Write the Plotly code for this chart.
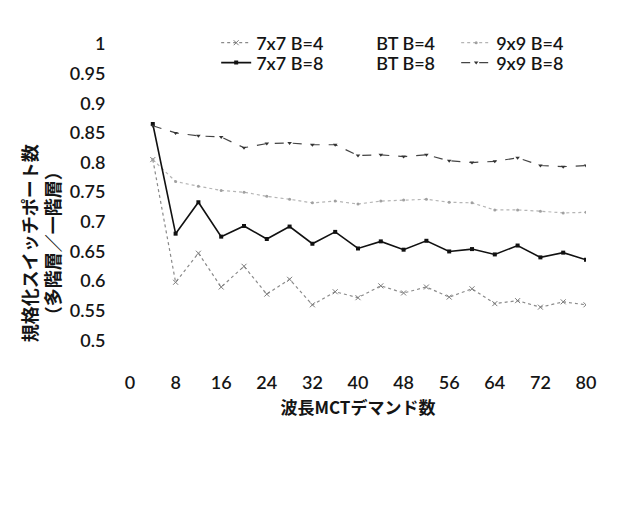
import plotly.graph_objects as go

demand = [4, 8, 12, 16, 20, 24, 28, 32, 36, 40, 44, 48, 52, 56, 60, 64, 68, 72, 76, 80]

s7x7_b4 = [0.805, 0.598, 0.647, 0.590, 0.625, 0.578, 0.603, 0.560, 0.582, 0.572,
           0.592, 0.580, 0.590, 0.573, 0.587, 0.562, 0.567, 0.556, 0.565, 0.560]
s9x9_b4 = [0.805, 0.768, 0.760, 0.753, 0.750, 0.743, 0.738, 0.732, 0.735, 0.730,
           0.735, 0.737, 0.738, 0.733, 0.732, 0.720, 0.720, 0.718, 0.715, 0.716]
s7x7_b8 = [0.865, 0.680, 0.733, 0.675, 0.693, 0.671, 0.692, 0.663, 0.683, 0.655,
           0.667, 0.653, 0.668, 0.650, 0.654, 0.645, 0.660, 0.640, 0.648, 0.636]
s9x9_b8 = [0.862, 0.850, 0.845, 0.843, 0.825, 0.832, 0.833, 0.830, 0.830, 0.812,
           0.813, 0.810, 0.813, 0.803, 0.800, 0.802, 0.808, 0.795, 0.793, 0.795]
bt_b4 = [None]
bt_b8 = [None]

x_ticks = [0, 8, 16, 24, 32, 40, 48, 56, 64, 72, 80]
y_ticks = [0.5, 0.55, 0.6, 0.65, 0.7, 0.75, 0.8, 0.85, 0.9, 0.95, 1]
y_tick_text = ["0.5", "0.55", "0.6", "0.65", "0.7", "0.75", "0.8", "0.85", "0.9", "0.95", "1"]

x_title = "波長MCTデマンド数"
y_title = "規格化スイッチポート数<br>（多階層／一階層）"

FONT = "Lato, 'Noto Sans CJK JP', sans-serif"
JP = "'Noto Sans CJK JP', sans-serif"
TXT = "#151515"

fig = go.Figure()

fig.add_trace(go.Scatter(x=demand, y=s7x7_b4, name="7x7 B=4", mode="lines+markers",
                         line=dict(color="#8a8a8a", width=1.2, dash="dot"),
                         marker=dict(symbol="x-thin", size=5, color="#7a7a7a", line=dict(width=1, color="#7a7a7a")),
                         legend="legend"))
fig.add_trace(go.Scatter(x=bt_b4, y=bt_b4, name="BT B=4", mode="lines",
                         line=dict(color="rgba(255,255,255,0)", width=1),
                         legend="legend", showlegend=True))
fig.add_trace(go.Scatter(x=demand, y=s9x9_b4, name="9x9 B=4", mode="lines+markers",
                         line=dict(color="#b5b5b5", width=1.2, dash="dot"),
                         marker=dict(symbol="circle", size=3, color="#a0a0a0"),
                         legend="legend"))
fig.add_trace(go.Scatter(x=demand, y=s7x7_b8, name="7x7 B=8", mode="lines+markers",
                         line=dict(color="#111111", width=1.6),
                         marker=dict(symbol="square", size=4, color="#111111"),
                         legend="legend2"))
fig.add_trace(go.Scatter(x=bt_b8, y=bt_b8, name="BT B=8", mode="lines",
                         line=dict(color="rgba(255,255,255,0)", width=1),
                         legend="legend2", showlegend=True))
fig.add_trace(go.Scatter(x=demand, y=s9x9_b8, name="9x9 B=8", mode="lines+markers",
                         line=dict(color="#444444", width=1.2, dash="dash"),
                         marker=dict(symbol="triangle-down", size=4, color="#333333"),
                         legend="legend2"))

leg_common = dict(orientation="h", xanchor="left", yanchor="middle", xref="paper", yref="paper",
                  entrywidth=75, entrywidthmode="pixels", itemwidth=30,
                  font=dict(family=FONT, size=18, color=TXT, weight=600),
                  bgcolor="rgba(0,0,0,0)", tracegroupgap=0)

fig.update_layout(
    width=644, height=524,
    margin=dict(l=122, r=66, t=36, b=162),
    paper_bgcolor="white", plot_bgcolor="white",
    font=dict(family=FONT, size=16, color=TXT),
    legend=dict(**leg_common, x=0.189, y=1.003),
    legend2=dict(**leg_common, x=0.189, y=0.942),
    xaxis=dict(range=[0, 80], tickmode="array", tickvals=x_ticks,
               showgrid=False, zeroline=False, showline=False,
               ticks="",
               tickfont=dict(family=FONT, size=18, color=TXT, weight=600),
               title=dict(text="<b>" + x_title + "</b>", font=dict(family=JP, size=17, color=TXT), standoff=10)),
    yaxis=dict(range=[0.45, 1.0], tickmode="array", tickvals=y_ticks, ticktext=y_tick_text,
               showgrid=False, zeroline=False, showline=False,
               ticks="outside", ticklen=20, tickcolor="rgba(0,0,0,0)",
               tickfont=dict(family=FONT, size=18, color=TXT, weight=600)),
    annotations=[dict(text="<b>" + y_title + "</b>", textangle=-90, xref="paper", yref="paper",
                      x=-0.197, y=0.389, xanchor="center", yanchor="middle", showarrow=False,
                      font=dict(family=JP, size=18, color=TXT))],
)

fig.write_html("out.html")
